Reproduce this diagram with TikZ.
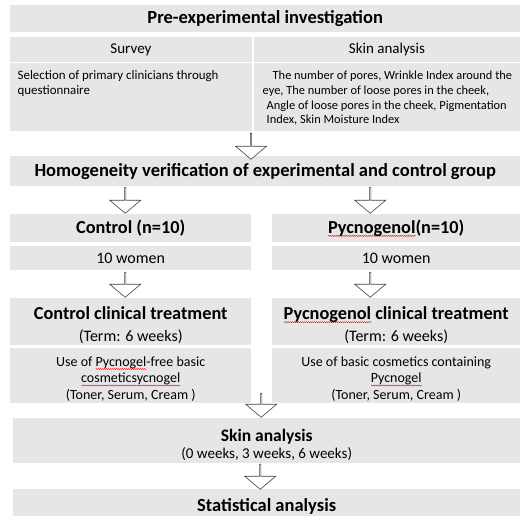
\documentclass[tikz,border=0pt]{standalone}
\usepackage{fontspec}
\setmainfont{Carlito}
\usetikzlibrary{shapes.arrows,calc,decorations.pathmorphing}
\definecolor{cellgray}{HTML}{E7E6E6}
\definecolor{edgegray}{HTML}{404040}
% red spell-check squiggle
\newlength{\squigwd}
\newcommand{\squig}[1]{\settowidth{\squigwd}{#1}\rlap{\tikz[baseline=0pt]\draw[red, fill=none, line width=0.4pt, decorate, decoration={snake, amplitude=0.5pt, segment length=2pt}] (0pt,-2.5pt) -- (\squigwd,-2.5pt);}#1}
\tikzset{
  cell/.style = {fill = cellgray, inner sep = 0pt, anchor = north west, align = center},
  downarrow/.style = {single arrow, draw = edgegray, fill = white, line width = 0.6pt,
    shape border rotate = 270, inner sep = 0pt, minimum width = 31pt, minimum height = 25pt,
    single arrow head extend = 7pt, single arrow tip angle = 100}
}
\begin{document}
\begin{tikzpicture} [x = 1pt, y = -1pt]
	\useasboundingbox (0,0) rectangle (520,515);
	% pre-experimental part
	\node [cell, minimum width = 510pt, minimum height = 27pt, font = \bfseries\fontsize{18.5}{20}\selectfont] (pre) at (10,5) {Pre-experimental investigation};
	\node [cell, minimum width = 241.5pt, minimum height = 24.5pt, font = \fontsize{15}{17}\selectfont] (survey) at (10,37) {Survey};
	\node [cell, minimum width = 266.5pt, minimum height = 24.5pt, font = \fontsize{15}{17}\selectfont] (skinhead) at (253.5,37) {Skin analysis};
	\node [cell, font = \fontsize{12.9}{14.7}\selectfont] (surveytxt) at (10,63)
		{\parbox[c][68pt][t]{241.5pt}{\leftskip = 7.5pt\vspace*{7.5pt}Selection of primary clinicians through\\questionnaire}};
	\node [cell, font = \fontsize{12.4}{14.7}\selectfont] (skintxt) at (253.5,63)
		{\parbox[c][68pt][t]{266.5pt}{\leftskip = 9pt\vspace*{8pt}\hspace*{10pt}The number of pores, Wrinkle Index around the\\eye, The number of loose pores in the cheek,\\\hspace*{4pt}Angle of loose pores in the cheek, Pigmentation\\\hspace*{4pt}Index, Skin Moisture Index}};
	\node [cell, minimum width = 510pt, minimum height = 30pt, font = \bfseries\fontsize{18.5}{20}\selectfont] (homog) at (10,156) {Homogeneity verification of experimental and control group};
	% two groups
	\node [cell, minimum width = 241pt, minimum height = 28pt, font = \bfseries\fontsize{18.3}{20}\selectfont] (ctrl) at (10,214) {Control (n=10)};
	\node [cell, minimum width = 248pt, minimum height = 28pt, font = \bfseries\fontsize{18.3}{20}\selectfont] (pyc) at (272,214) {\squig{Pycnogenol}(n=10)};
	\node [cell, minimum width = 241pt, minimum height = 24pt, font = \fontsize{16}{18}\selectfont] (ctrlwomen) at (10,246) {10 women};
	\node [cell, minimum width = 248pt, minimum height = 24pt, font = \fontsize{16}{18}\selectfont] (pycwomen) at (272,246) {10 women};
	\node [cell, minimum width = 241pt, minimum height = 47pt, font = \fontsize{16}{22}\selectfont] (ctrltreat) at (10,298)
		{\rule{0pt}{20pt}{\bfseries\fontsize{18.3}{20}\selectfont Control clinical treatment}\\(Term: 6 weeks)};
	\node [cell, minimum width = 248pt, minimum height = 47pt, font = \fontsize{16}{22}\selectfont] (pyctreat) at (272,298)
		{\rule{0pt}{20pt}{\bfseries\fontsize{18.3}{20}\selectfont \squig{Pycnogenol} clinical treatment}\\(Term: 6 weeks)};
	\node [cell, minimum width = 241pt, minimum height = 55pt, font = \fontsize{14}{16.5}\selectfont] (ctrluse) at (10,348)
		{\rule{0pt}{16.5pt}Use of \squig{Pycnogel}-free basic\\\squig{cosmeticsycnogel}\\(Toner, Serum, Cream )};
	\node [cell, minimum width = 248pt, minimum height = 55pt, font = \fontsize{14}{16.5}\selectfont] (pycuse) at (272,348)
		{\rule{0pt}{16.5pt}Use of basic cosmetics containing\\\squig{Pycnogel}\\(Toner, Serum, Cream )};
	% after treatment
	\node [cell, minimum width = 507pt, minimum height = 45pt, font = \fontsize{15}{17}\selectfont] (skin) at (13,418)
		{\rule{0pt}{21pt}{\bfseries\fontsize{17.5}{19}\selectfont Skin analysis}\\(0 weeks, 3 weeks, 6 weeks)};
	\node [cell, minimum width = 507pt, minimum height = 35pt, font = \bfseries\fontsize{18.5}{20}\selectfont] (stat) at (13,489) {Statistical analysis};
	% block arrows
	\node [downarrow, minimum height = 26pt] (arr1) at ($(skinhead.south west |- homog.north)+(-2.5,-10)$) {};
	\node [downarrow, minimum height = 26pt] (arr2) at ($(ctrl.north)+(-5.5,-14)$) {};
	\node [downarrow, minimum height = 26pt] (arr3) at ($(pyc.north)+(-26,-14)$) {};
	\node [downarrow] (arr4) at ($(ctrltreat.north)+(-5.5,-13.5)$) {};
	\node [downarrow] (arr5) at ($(pyctreat.north)+(-26,-13.5)$) {};
	\node [downarrow, minimum height = 24pt] (arr6) at ($(skin.north)+(-5.5,-13)$) {};
	\node [downarrow] (arr7) at ($(stat.north)+(-6.5,-12.5)$) {};
\end{tikzpicture}
\end{document}
